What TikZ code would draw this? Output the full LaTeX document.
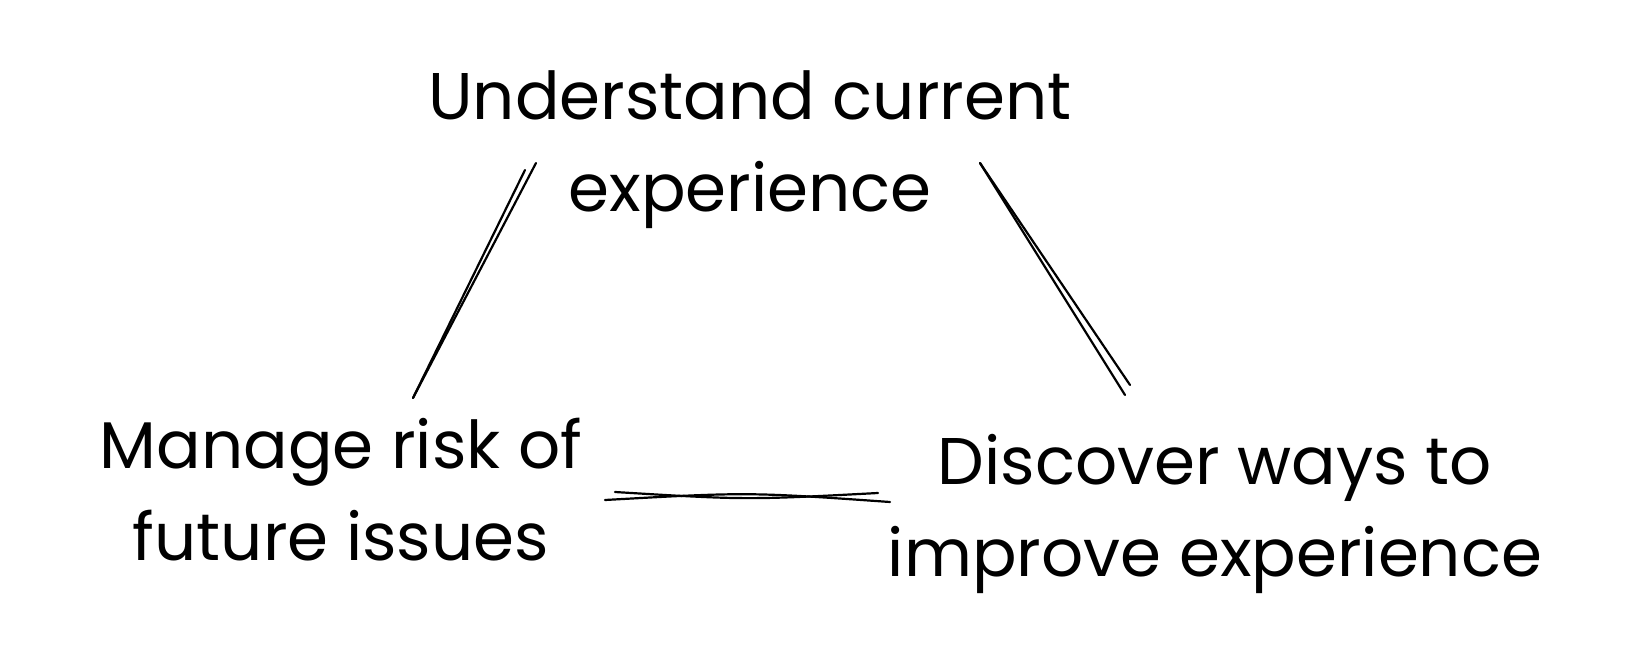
\documentclass[tikz,border=0pt]{standalone}
\usepackage{fontspec}
\setmainfont{Poppins}
\tikzset{
  goal/.style={align=center, font=\fontsize{33}{46}\selectfont, inner sep=0pt},
  sketch/.style={line width=1.1pt, line cap=round}
}
\begin{document}
\begin{tikzpicture}[x=0.5pt,y=-0.5pt]
\useasboundingbox (0,0) rectangle (1628,668);
\node[goal] (understand) at (750,150) {Understand current\\experience};
\node[goal] (risk) at (341,490) {Manage risk of\\future issues};
\node[goal] (discover) at (1215,514) {Discover ways to\\improve experience};
% understand -- risk
\coordinate (ur1) at (525,170);
\coordinate (ur2) at (536,163);
\coordinate (ru) at (413,398);
\draw[sketch] (ur1) -- (ru);
\draw[sketch] (ur2) -- (ru);
% understand -- discover
\coordinate (ud) at (980,163);
\coordinate (du1) at (1125,395);
\coordinate (du2) at (1130,385);
\draw[sketch] (ud) -- (du1);
\draw[sketch] (ud) -- (du2);
% risk -- discover
\coordinate (rd1) at (615,492);
\coordinate (rd2) at (605,500);
\coordinate (dr1) at (878,493);
\coordinate (dr2) at (890,502);
\draw[sketch] (rd1) .. controls (746,500) .. (dr1);
\draw[sketch] (rd2) .. controls (748,492) .. (dr2);
\end{tikzpicture}
\end{document}
